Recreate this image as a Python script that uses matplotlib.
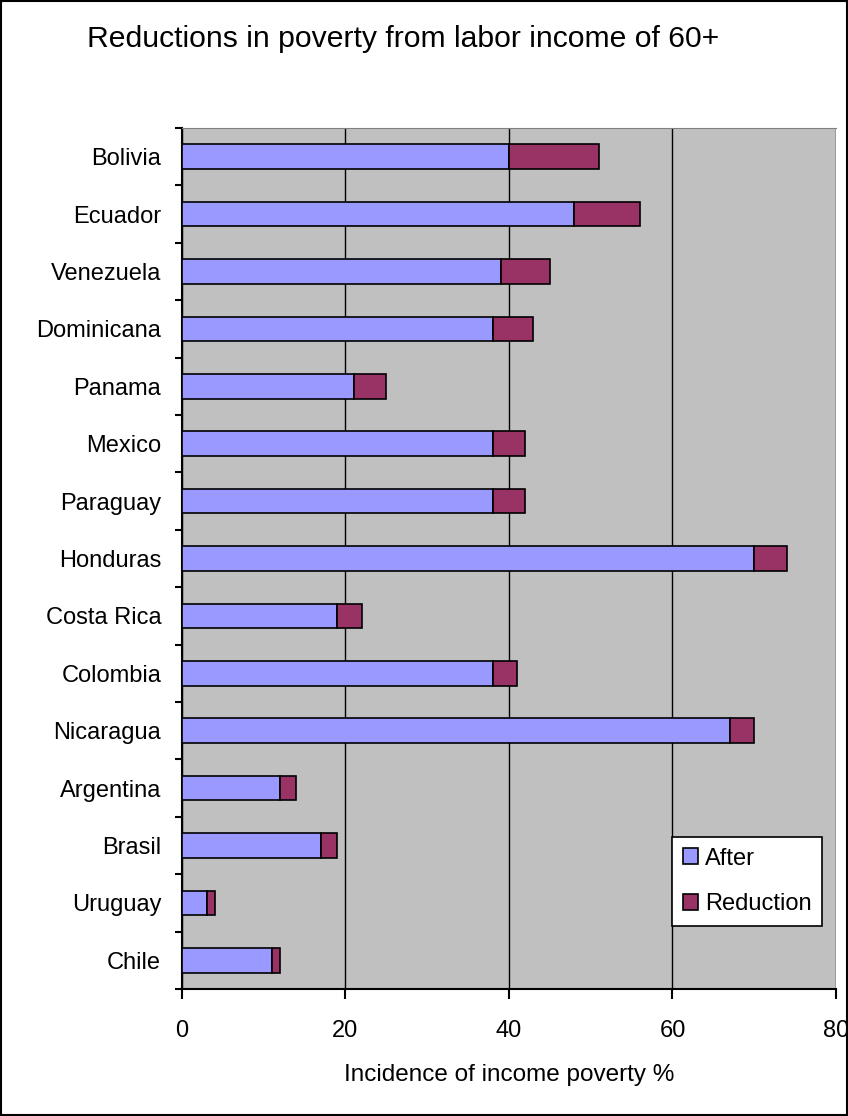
import matplotlib
matplotlib.use("Agg")
import numpy as np
import matplotlib.pyplot as plt
from matplotlib.patches import Rectangle

plt.rcParams['font.family'] = ['Liberation Sans', 'DejaVu Sans']

# Data, top row first
countries = ['Bolivia', 'Ecuador', 'Venezuela', 'Dominicana', 'Panama', 'Mexico',
             'Paraguay', 'Honduras', 'Costa Rica', 'Colombia', 'Nicaragua',
             'Argentina', 'Brasil', 'Uruguay', 'Chile']
after = [40, 48, 39, 38, 21, 38, 38, 70, 19, 38, 67, 12, 17, 3, 11]
reduction = [11, 8, 6, 5, 4, 4, 4, 4, 3, 3, 3, 2, 2, 1, 1]

fig = plt.figure(figsize=(8.48, 11.16), dpi=100)
ax = fig.add_axes([0.2146, 0.1138, 0.9858 - 0.2146, 0.8853 - 0.1138])
ax.set_facecolor('#c0c0c0')

n = len(countries)
y = np.arange(n)
ax.barh(y, after, height=0.43, color='#9999ff', edgecolor='black', linewidth=1.2,
        label='After', zorder=3)
ax.barh(y, reduction, left=after, height=0.43, color='#993366', edgecolor='black',
        linewidth=1.2, label='Reduction', zorder=3)

ax.set_ylim(n - 0.5, -0.5)
ax.set_xlim(0, 80)
ax.set_xticks([0, 20, 40, 60, 80])
ax.set_yticks(y)
ax.set_yticklabels(countries)
ax.set_yticks(np.arange(n + 1) - 0.5, minor=True)
ax.tick_params(axis='y', which='major', length=0, pad=15, labelsize=17)
ax.tick_params(axis='y', which='minor', length=5, width=1.5, direction='out')
ax.tick_params(axis='x', length=7, width=1.5, pad=15, labelsize=17)

ax.xaxis.grid(True, color='black', linewidth=1)
ax.set_axisbelow(True)

for s in ['left', 'bottom']:
    ax.spines[s].set_linewidth(1.5)
ax.spines['top'].set_color('#808080')
ax.spines['right'].set_visible(False)

ax.set_xlabel('Incidence of income poverty %', fontsize=17.5, labelpad=16)

fig.text(87 / 848, 1 - 47 / 1116, 'Reductions in poverty from labor income of 60+',
         fontsize=21.7, ha='left', va='baseline')

leg = ax.legend(loc='upper left', bbox_to_anchor=((672 - 182) / 654, (1116 - 837 - 127) / 861,
                                                  150 / 654, 0),
                mode='expand', fontsize=17, frameon=True, fancybox=False,
                edgecolor='black', framealpha=1, handlelength=0.65, handleheight=0.65,
                handletextpad=0.3, borderpad=0.45, labelspacing=1.0, borderaxespad=0)
leg.get_frame().set_linewidth(1.2)

fig.patches.append(Rectangle((0.001, 0.001), 0.998, 0.998, transform=fig.transFigure,
                             fill=False, edgecolor='black', linewidth=1.5))

fig.savefig('out.png', dpi=100, facecolor='white')
